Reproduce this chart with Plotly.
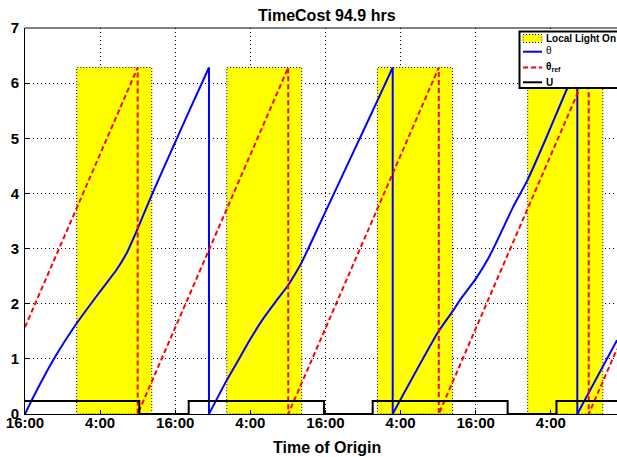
import plotly.graph_objects as go

# ---------------- data (hours since 16:00 of day 1) ----------------
x_tick_hours = [0, 12, 24, 36, 48, 60, 72, 84]
x_tick_labels = ["16:00", "4:00", "16:00", "4:00", "16:00", "4:00", "16:00", "4:00"]
y_ticks = [0, 1, 2, 3, 4, 5, 6, 7]

light_start = [8.26, 32.23, 56.30, 80.30]
light_end = [20.25, 44.20, 68.30, 92.30]
light_level = 6.283

# theta, one list per cycle (each cycle rises from 0 until it wraps at 2*pi)
theta_h = [
    [0.00, 1.07, 4.52, 8.26, 11.98, 14.65, 16.25, 17.84, 20.24, 23.96, 26.36, 29.39],
    [29.39, 32.22, 34.35, 36.00, 38.00, 40.00, 42.00, 43.10, 44.20, 48.00, 52.00, 56.00, 58.74],
    [58.74, 66.02, 68.30, 69.50, 72.00, 74.00, 76.00, 78.00, 80.35, 83.50, 86.53, 88.23],
    [88.23, 94.57],
]
theta_v = [
    [0.00, 0.25, 0.98, 1.645, 2.22, 2.62, 2.92, 3.32, 3.97, 4.92, 5.53, 6.283],
    [0.00, 0.61, 1.03, 1.36, 1.72, 2.03, 2.33, 2.53, 2.75, 3.67, 4.64, 5.61, 6.283],
    [0.00, 1.49, 1.86, 2.07, 2.45, 2.82, 3.28, 3.76, 4.26, 5.07, 5.88, 6.283],
    [0.00, 1.34],
]
theta_wrap_h = [29.39, 58.74, 88.23]
wrap_top = 6.283

ref_h = [0.00, 18.00, 18.00, 42.05, 42.05, 66.10, 66.10, 90.05, 90.05, 94.57]
ref_v = [1.575, 6.283, 0.00, 6.283, 0.00, 6.283, 0.00, 6.283, 0.00, 1.18]

u_h = [0.00, 18.26, 26.15, 47.76, 55.54, 77.10, 84.90, 94.57]
u_v = [0.235, 0.0, 0.235, 0.0, 0.235, 0.0, 0.235, 0.235]

title_text = "TimeCost 94.9 hrs"
xlabel_text = "Time of Origin"
legend_labels = ["Local Light On", "θ", "θ<sub>ref</sub>", "U"]

# ---------------- layout geometry (pixels) ----------------
W, H = 617, 457
L, T, B = 25, 28, 43
PW, PH = W - L, H - T - B
X_MAX = 94.57
FONT = "Liberation Sans, Arial, Helvetica, sans-serif"
BLUE, RED = "#0000FF", "#FF0000"


def px(xp):
    return (xp - L) / PW


def py(yp):
    return (H - B - yp) / PH


fig = go.Figure()

# light-on boxes
for s, e in zip(light_start, light_end):
    fig.add_trace(go.Scatter(
        x=[s, e, e, s, s], y=[0, 0, light_level, light_level, 0],
        mode="lines", fill="toself", fillcolor="#FFFF00",
        line=dict(color="black", width=1, dash="1px,2px"),
        showlegend=False, hoverinfo="skip"))

# theta: smooth cycles plus vertical wraps
for hh, vv in zip(theta_h, theta_v):
    fig.add_trace(go.Scatter(x=hh, y=vv, mode="lines", line_shape="spline",
                             line=dict(color=BLUE, width=2, smoothing=0.6), showlegend=False))
wx, wy = [], []
for w in theta_wrap_h:
    wx += [w, w, None]
    wy += [wrap_top, 0, None]
fig.add_trace(go.Scatter(x=wx, y=wy, mode="lines", line=dict(color=BLUE, width=2),
                         showlegend=False))

fig.add_trace(go.Scatter(x=ref_h, y=ref_v, mode="lines",
                         line=dict(color=RED, width=2, dash="5px,3px"), showlegend=False))
fig.add_trace(go.Scatter(x=u_h, y=u_v, mode="lines", line_shape="hv",
                         line=dict(color="black", width=2), showlegend=False))

shapes = []
# top border
shapes.append(dict(type="line", xref="paper", yref="paper", x0=0, x1=1.05, y0=1, y1=1,
                   line=dict(color="black", width=1)))
# custom legend
shapes.append(dict(type="rect", xref="paper", yref="paper",
                   x0=px(519.5), x1=px(625), y0=py(88), y1=py(31.5),
                   line=dict(color="black", width=2), fillcolor="white", layer="above"))
shapes.append(dict(type="rect", xref="paper", yref="paper",
                   x0=px(523), x1=px(542), y0=py(42.5), y1=py(34.5),
                   line=dict(color="black", width=1, dash="1px,2px"), fillcolor="#FFFF00",
                   layer="above"))
shapes.append(dict(type="line", xref="paper", yref="paper", x0=px(523), x1=px(542),
                   y0=py(51.7), y1=py(51.7), line=dict(color=BLUE, width=2), layer="above"))
shapes.append(dict(type="line", xref="paper", yref="paper", x0=px(523), x1=px(542),
                   y0=py(67.5), y1=py(67.5), line=dict(color=RED, width=2, dash="5px,3px"),
                   layer="above"))
shapes.append(dict(type="line", xref="paper", yref="paper", x0=px(523), x1=px(542),
                   y0=py(82.3), y1=py(82.3), line=dict(color="black", width=2), layer="above"))

annotations = [
    dict(text=title_text, xref="paper", yref="paper", x=px(326.5), y=py(15),
         showarrow=False, xanchor="center", yanchor="middle",
         font=dict(family=FONT, size=16, color="black", weight="bold")),
    dict(text=xlabel_text, xref="paper", yref="paper", x=px(327), y=py(447),
         showarrow=False, xanchor="center", yanchor="middle",
         font=dict(family=FONT, size=16, color="black", weight="bold")),
]
leg_y = [38.5, 50.5, 66.5, 82.3]
leg_w = ["bold", "normal", "bold", "bold"]
for lab, yy, ww in zip(legend_labels, leg_y, leg_w):
    annotations.append(dict(text=lab, xref="paper", yref="paper", x=px(543.5), y=py(yy),
                            showarrow=False, xanchor="left", yanchor="middle",
                            font=dict(family=FONT, size=10, color="black", weight=ww)))

fig.update_layout(
    width=W, height=H,
    margin=dict(l=L, r=0, t=T, b=B, pad=0),
    paper_bgcolor="white", plot_bgcolor="white",
    showlegend=False,
    shapes=shapes, annotations=annotations,
    xaxis=dict(range=[0, X_MAX], tickmode="array", tickvals=x_tick_hours, ticktext=x_tick_labels,
               showgrid=True, gridcolor="black", griddash="1px,3px", gridwidth=1,
               showline=True, linecolor="black", linewidth=1,
               ticks="inside", ticklen=4, tickcolor="black", ticklabelstandoff=-5,
               tickfont=dict(family=FONT, size=15, color="black", weight="bold"),
               zeroline=False, fixedrange=True),
    yaxis=dict(range=[0, 7], tickmode="array", tickvals=y_ticks,
               showgrid=True, gridcolor="black", griddash="1px,3px", gridwidth=1,
               showline=True, linecolor="black", linewidth=1,
               ticks="inside", ticklen=4, tickcolor="black", ticklabelstandoff=2,
               tickfont=dict(family=FONT, size=15, color="black", weight="bold"),
               zeroline=False, fixedrange=True),
)

fig.write_html("out.html")
